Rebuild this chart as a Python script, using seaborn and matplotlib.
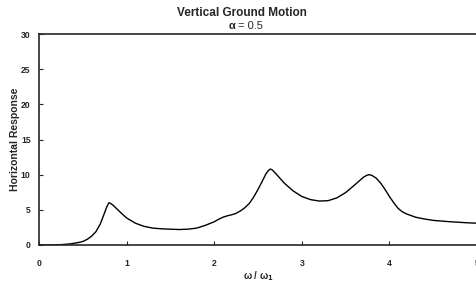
import numpy as np
import pandas as pd
import seaborn as sns
from matplotlib import pyplot as plt

# frequency ratio vs horizontal response
freq_ratio = [0, 0.25, 0.35, 0.45, 0.5, 0.55, 0.6, 0.65, 0.7, 0.74, 0.77, 0.79, 0.8,
              0.82, 0.85, 0.9, 0.95, 1.0, 1.1, 1.2, 1.3, 1.4, 1.5, 1.6, 1.7, 1.8, 1.9,
              2.0, 2.05, 2.1, 2.15, 2.2, 2.25, 2.3, 2.35, 2.4, 2.45, 2.5, 2.55, 2.59,
              2.62, 2.64, 2.66, 2.7, 2.75, 2.8, 2.9, 3.0, 3.1, 3.2, 3.3, 3.4, 3.5,
              3.6, 3.65, 3.7, 3.74, 3.77, 3.8, 3.85, 3.9, 3.95, 4.0, 4.05, 4.1, 4.15,
              4.2, 4.3, 4.4, 4.5, 4.7, 4.9, 5.0]
response = [0, 0.05, 0.15, 0.35, 0.5, 0.8, 1.25, 1.9, 3.0, 4.3, 5.3, 5.85, 6.0,
            5.9, 5.6, 5.0, 4.4, 3.85, 3.1, 2.65, 2.4, 2.3, 2.25, 2.2, 2.25, 2.4, 2.8,
            3.3, 3.65, 3.95, 4.15, 4.3, 4.5, 4.85, 5.3, 5.9, 6.8, 7.9, 9.1, 10.1,
            10.6, 10.8, 10.7, 10.2, 9.5, 8.8, 7.7, 6.9, 6.45, 6.25, 6.3, 6.7, 7.45,
            8.5, 9.05, 9.6, 9.9, 10.0, 9.9, 9.5, 8.8, 7.9, 6.9, 6.0, 5.2, 4.7,
            4.4, 3.95, 3.7, 3.5, 3.3, 3.15, 3.1]
x_ticks = [0, 1, 2, 3, 4, 5]
y_ticks = [0, 5, 10, 15, 20, 25, 30]

df = pd.DataFrame({"w": freq_ratio, "resp": response})

sns.set_style("ticks")
plt.rcParams['font.family'] = ['Liberation Sans', 'DejaVu Sans']

fig = plt.figure(figsize=(4.76, 2.84), dpi=100)
ax = fig.add_axes([39 / 476, 1 - 245 / 284, (477 - 39) / 476, (245 - 34) / 284])

sns.lineplot(data=df, x="w", y="resp", ax=ax, color="black", linewidth=1.0)

ax.set_xlim(0, 5)
ax.set_ylim(0, 30)
ax.set_xticks(x_ticks)
ax.set_yticks(y_ticks)
ax.tick_params(direction="in", length=3, width=0.8, labelsize=6.2, pad=6)
ax.tick_params(axis="x", pad=10)
for lab in ax.get_xticklabels() + ax.get_yticklabels():
    lab.set_fontweight("bold")
for s in ax.spines.values():
    s.set_linewidth(1.2)

ax.set_xlabel(r"ω / ω$_\mathbf{1}$", fontsize=7, fontweight="bold", labelpad=1)
ax.set_ylabel("Horizontal Response", fontsize=7.5, fontweight="bold", labelpad=1)

fig.text(242 / 476, 1 - 13 / 284, "Vertical Ground Motion", ha="center", va="center",
         fontsize=8.5, fontweight="bold")
fig.text(235 / 476, 1 - 26 / 284, "α", ha="right", va="center", fontsize=8, fontweight="bold")
fig.text(238 / 476, 1 - 26 / 284, "= 0.5", ha="left", va="center", fontsize=8)

fig.savefig("out.png", dpi=100)
